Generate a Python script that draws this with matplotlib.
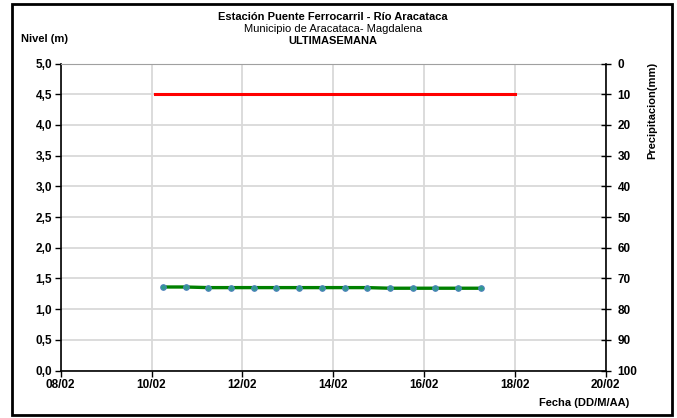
import matplotlib
matplotlib.use('Agg')
import matplotlib.pyplot as plt
import matplotlib.dates as mdates
import matplotlib.patches as mpatches
from datetime import datetime, timedelta

plt.rcParams['font.family'] = ['Liberation Sans', 'DejaVu Sans']

# nivel (m) cada 12 horas
t0 = datetime(2024, 2, 10, 6)
fechas = [t0 + timedelta(hours=12 * i) for i in range(15)]
nivel = [1.36, 1.36, 1.35, 1.35, 1.35, 1.35, 1.35, 1.35,
         1.35, 1.35, 1.34, 1.34, 1.34, 1.34, 1.34]

# nivel de alerta
fechas_alerta = [datetime(2024, 2, 10, 2), datetime(2024, 2, 18, 0)]
nivel_alerta = [4.5, 4.5]

x_min = datetime(2024, 2, 8)
x_max = datetime(2024, 2, 20)

W, H = 677, 418
fig = plt.figure(figsize=(W / 100, H / 100), dpi=100)
ax = fig.add_axes([60.7 / W, 1 - 370.5 / H, 545 / W, 307 / H])

ax.plot(fechas_alerta, nivel_alerta, color='#ff0000', lw=2.2, zorder=3)
ax.plot(fechas, nivel, color='#008000', lw=2.4, zorder=3,
        marker='o', ms=4, mfc='#2e9c8c', mec='#4f81bd', mew=0.8)

ax.set_xlim(x_min, x_max)
ax.set_ylim(0, 5)
ax.set_yticks([i * 0.5 for i in range(11)])
ax.set_yticklabels([('%.1f' % (i * 0.5)).replace('.', ',') for i in range(11)])
ax.xaxis.set_major_locator(mdates.DayLocator(interval=2))
ax.xaxis.set_major_formatter(mdates.DateFormatter('%d/%m'))
ax.grid(True, color='#d9d9d9', lw=1.3)
ax.set_axisbelow(True)

for s in ['left', 'bottom']:
    ax.spines[s].set_color('black')
    ax.spines[s].set_linewidth(1.2)
ax.spines['top'].set_color('#a0a0a0')
ax.spines['right'].set_visible(False)
ax.tick_params(axis='both', direction='out', length=4, width=1, labelsize=8.5, pad=2)
for lab in ax.get_xticklabels() + ax.get_yticklabels():
    lab.set_fontweight('bold')

ax2 = ax.twinx()
ax2.set_ylim(100, 0)
ax2.set_yticks(range(0, 101, 10))
ax2.spines['right'].set_color('black')
ax2.spines['right'].set_linewidth(1.2)
for s in ['left', 'top', 'bottom']:
    ax2.spines[s].set_visible(False)
ax2.tick_params(axis='y', direction='inout', length=7, width=1, labelsize=8.5, pad=5)
for lab in ax2.get_yticklabels():
    lab.set_fontweight('bold')

fig.text(333 / W, 1 - 17 / H, 'Estación Puente Ferrocarril - Río Aracataca',
         ha='center', va='center', fontsize=8, fontweight='bold')
fig.text(333 / W, 1 - 29.5 / H, 'Municipio de Aracataca- Magdalena',
         ha='center', va='center', fontsize=8)
fig.text(333 / W, 1 - 40.5 / H, 'ULTIMASEMANA',
         ha='center', va='center', fontsize=8, fontweight='bold')
fig.text(21 / W, 1 - 39 / H, 'Nivel (m)', ha='left', va='center',
         fontsize=8, fontweight='bold')
fig.text(652 / W, 1 - 110 / H, 'Precipitacion(mm)', ha='center', va='center',
         rotation=90, fontsize=8, fontweight='bold')
fig.text(629 / W, 1 - 403 / H, 'Fecha (DD/M/AA)', ha='right', va='center',
         fontsize=8, fontweight='bold')

fig.patches.append(mpatches.Rectangle((12 / W, 3 / H), 660 / W, 411 / H,
                                      transform=fig.transFigure, fill=False,
                                      edgecolor='black', lw=2))

fig.savefig('out.png', dpi=100)
